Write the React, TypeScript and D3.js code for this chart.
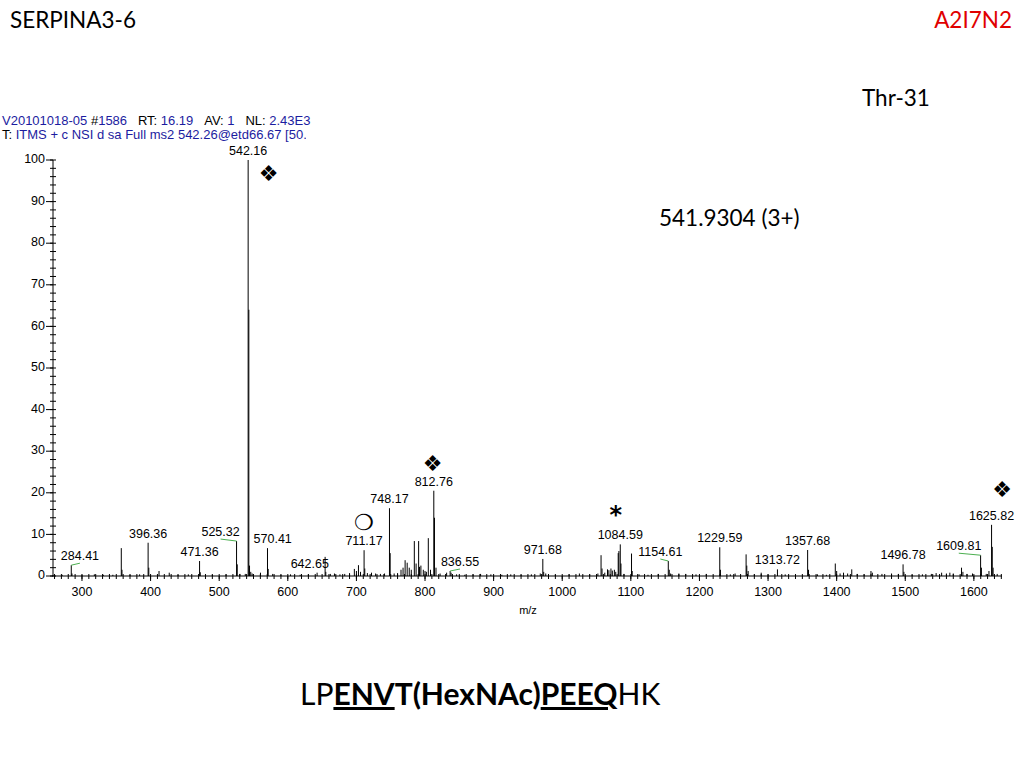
import * as d3 from 'd3';

// spectrum: [m/z, relative intensity]
const peaks: [number, number][] = [
  [271, 0.3], [284.4, 2.6], [285.4, 0.6], [300, 0.3], [318, 0.4], [331, 0.3], [345, 0.3],
  [357.3, 6.7], [358.3, 1.5], [370, 0.3], [384, 0.4], [396.4, 8.0], [397.4, 2.0],
  [412.3, 1.2], [427.2, 0.8], [440, 0.3], [455, 0.4], [471.4, 3.6], [472.4, 0.9],
  [490, 0.3], [510, 0.4], [525.3, 8.4], [526.3, 2.8], [530.2, 0.5], [538, 0.5],
  [542.2, 100], [543.2, 64], [544.2, 2.5], [546, 1.0], [548, 0.6], [560.2, 0.8],
  [570.4, 6.7], [571.4, 1.7], [578, 0.5], [590, 0.3], [604, 0.4], [618, 0.3],
  [630, 0.4], [642.7, 0.8], [654.4, 4.6], [655.4, 1.0], [662, 0.5], [668, 0.6],
  [676, 0.4], [683, 0.5], [690, 0.7], [697, 1.7], [700, 1.2], [703, 2.6], [706, 1.0],
  [711.2, 6.2], [712.2, 1.8], [716, 0.7], [722, 0.8], [728, 0.6], [735, 0.5],
  [741, 0.6], [748.2, 16.3], [749.2, 5.5], [755, 0.6], [760, 0.7], [765, 1.5],
  [768, 2.0], [771, 3.8], [774, 3.2], [777, 2.0], [780, 1.5], [784.4, 8.4], [787, 3.0],
  [790.7, 8.4], [792, 2.2], [794, 2.5], [797.5, 1.5], [800, 1.2], [802, 1.0],
  [804.8, 9.1], [808, 1.5], [812.8, 20.5], [813.8, 14.0], [816, 2.0], [822, 0.6],
  [831.5, 0.8], [836.6, 1.2], [838, 0.8], [846, 0.4], [858, 0.3], [870, 0.4],
  [881, 0.5], [896, 0.4], [912, 0.3], [925, 0.4], [940, 0.3], [955, 0.4], [968, 0.6],
  [971.7, 4.1], [973, 1.0], [976, 0.6], [990, 0.3], [1010, 0.4], [1025, 0.6],
  [1040, 0.4], [1052, 0.6], [1056.6, 5.0], [1058, 1.8], [1062, 0.8], [1066, 1.6],
  [1068, 1.4], [1071, 1.8], [1073, 1.3], [1076, 1.5], [1078, 1.0], [1081.6, 5.5],
  [1082.6, 6.0], [1084.6, 7.6], [1085.6, 3.0], [1090, 0.5], [1101, 5.4], [1102, 1.2],
  [1112, 0.4], [1125, 0.3], [1140, 0.5], [1154.6, 3.6], [1156, 1.5], [1158, 0.6],
  [1170, 0.6], [1180, 0.5], [1195, 0.4], [1210, 0.5], [1229.6, 6.9], [1230.6, 1.5],
  [1245, 0.4], [1252, 0.6], [1268, 5.2], [1269, 2.5], [1271, 1.2], [1280, 0.4],
  [1290, 0.8], [1300, 0.4], [1313.7, 1.6], [1325, 0.4], [1340, 0.3], [1357.7, 6.25],
  [1359, 1.5], [1372, 0.4], [1385, 0.3], [1398, 3.0], [1400, 1.2], [1405, 0.6],
  [1410, 0.8], [1416, 0.6], [1422, 1.6], [1430, 0.5], [1440, 0.4], [1450, 1.2],
  [1452, 0.8], [1466, 0.5], [1480, 0.6], [1490, 0.5], [1496.8, 2.8], [1498, 1.0],
  [1510, 0.3], [1525, 0.4], [1538, 0.5], [1545, 0.7], [1553, 0.8], [1560, 0.6],
  [1565, 0.8], [1570, 0.6], [1582, 2.0], [1584, 1.0], [1590, 0.5], [1598, 0.6],
  [1609.8, 5.0], [1611, 2.0], [1618, 0.5], [1622, 1.2], [1625.8, 12.3], [1626.8, 7.0],
  [1628, 2.0], [1634, 0.5],
];

// labelled peaks: [m/z, intensity, label, label anchor m/z]
const labelled: [number, number, string, number][] = [
  [284.4, 2.6, '284.41', 297],
  [396.4, 8.0, '396.36', 396.4],
  [471.4, 3.6, '471.36', 471.4],
  [525.3, 8.4, '525.32', 502],
  [542.2, 100, '542.16', 542.2],
  [570.4, 6.7, '570.41', 578],
  [642.7, 0.8, '642.65', 632],
  [711.2, 6.2, '711.17', 711.2],
  [748.2, 16.3, '748.17', 748.2],
  [812.8, 20.5, '812.76', 812.8],
  [836.6, 1.2, '836.55', 851],
  [971.7, 4.1, '971.68', 971.7],
  [1084.6, 7.6, '1084.59', 1084.6],
  [1154.6, 3.6, '1154.61', 1143],
  [1229.6, 6.9, '1229.59', 1229.6],
  [1313.7, 1.6, '1313.72', 1313.7],
  [1357.7, 6.25, '1357.68', 1357.7],
  [1496.8, 2.8, '1496.78', 1496.8],
  [1609.8, 5.0, '1609.81', 1578],
  [1625.8, 12.3, '1625.82', 1625.8],
];

// fragment symbols: [m/z, intensity, glyph]
const symbols: [number, number, string][] = [
  [572, 96.5, '\u2756'],
  [811, 26.6, '\u2756'],
  [1641, 20.4, '\u2756'],
  [711, 12.6, '\u274D'],
  [1078, 14.4, '*'],
];

const xTickValues = d3.range(300, 1601, 100);
const yTickValues = d3.range(0, 101, 10);

const sp = (n: number) => '\u00a0'.repeat(n);

export default function App() {
  const x = d3.scaleLinear().domain([256.3, 1641]).range([52, 1002]);
  const y = d3.scaleLinear().domain([0, 100]).range([576, 160]);
  const minorX = d3.range(260, 1641, 10);
  const minorY = d3.range(0, 101, 2);
  const blue = '#1c1ca0';
  const sans = 'Liberation Sans, Arial, sans-serif';
  const cal = 'Lato, Carlito, sans-serif';

  return (
    <svg width={1024} height={768} viewBox="0 0 1024 768"
      style={{ position: 'fixed', left: 0, top: 0, background: '#fff' }}>
      <rect width={1024} height={768} fill="#fff" />
      <text x={10} y={28} fontFamily={cal} fontSize={22.5}>SERPINA3-6</text>
      <text x={1012} y={28} fontFamily={cal} fontSize={22.5} fill="#e00000" textAnchor="end">A2I7N2</text>
      <text x={862} y={106} fontFamily={cal} fontSize={22.5}>Thr-31</text>
      <text x={659} y={226} fontFamily={cal} fontSize={22.5}>541.9304 (3+)</text>

      <defs>
        <clipPath id="hdr"><rect x={0} y={128} width={306} height={20} /></clipPath>
      </defs>
      <g fontFamily={sans} fontSize={13}>
        <text x={2} y={125}>
          <tspan fill={blue}>{'V20101018-05' + sp(1)}</tspan><tspan>#</tspan><tspan fill={blue}>1586</tspan>
          <tspan>{sp(3) + 'RT:' + sp(1)}</tspan><tspan fill={blue}>16.19</tspan>
          <tspan>{sp(3) + 'AV:' + sp(1)}</tspan><tspan fill={blue}>1</tspan>
          <tspan>{sp(3) + 'NL:' + sp(1)}</tspan><tspan fill={blue}>2.43E3</tspan>
        </text>
        <text x={2} y={139} clipPath="url(#hdr)">
          <tspan>{'T:' + sp(1)}</tspan><tspan fill={blue}>ITMS + c NSI d sa Full ms2 542.26@etd66.67 [50.00-2000.00]</tspan>
        </text>
      </g>

      {/* spectrum */}
      <g stroke="#000" strokeWidth={1}>
        {peaks.map(([mz, v], i) => (
          <line key={i} x1={x(mz)} x2={x(mz)} y1={y(0)} y2={y(v)} />
        ))}
      </g>

      {/* leader lines */}
      <g stroke="#4caf50" strokeWidth={1} fill="none">
        {labelled.filter(d => Math.abs(d[3] - d[0]) > 11).map(([mz, v, , a], i) => (
          <line key={i} x1={x(a)} y1={y(v) - 2} x2={x(mz)} y2={y(v)} />
        ))}
      </g>

      <g fontFamily={sans} fontSize={12.5} textAnchor="middle">
        {labelled.map(([mz, v, t, a]) => (
          <text key={t} x={x(a)} y={y(v) - 5}>{t}</text>
        ))}
      </g>

      <g fontFamily="DejaVu Sans, sans-serif" textAnchor="middle">
        {symbols.map(([mz, v, s], i) => (
          <text key={i} x={x(mz)} y={y(v)} fontSize={s === '*' ? 24 : 22}
            fontWeight={s === '*' ? 'bold' : 'normal'} dominantBaseline="middle">{s}</text>
        ))}
      </g>

      {/* axes */}
      <g stroke="#000" strokeWidth={1}>
        <line x1={53} x2={53} y1={y(100)} y2={y(0)} />
        {minorY.map(v => (
          <line key={v} x1={50} x2={56} y1={y(v)} y2={y(v)} />
        ))}
        {yTickValues.map(v => (
          <line key={v} x1={46} x2={53} y1={y(v)} y2={y(v)} />
        ))}
        <line x1={52} x2={1002} y1={y(0)} y2={y(0)} />
        {minorX.map(v => (
          <line key={v} x1={x(v)} x2={x(v)} y1={y(0) - 2} y2={y(0) + 3} />
        ))}
        {xTickValues.map(v => (
          <line key={v} x1={x(v)} x2={x(v)} y1={y(0)} y2={y(0) + 5} />
        ))}
      </g>
      <g fontFamily={sans} fontSize={12.5}>
        {yTickValues.map(v => (
          <text key={v} x={45} y={y(v)} textAnchor="end" dominantBaseline="middle">{v}</text>
        ))}
        {xTickValues.map(v => (
          <text key={v} x={x(v)} y={596} textAnchor="middle">{v}</text>
        ))}
        <text x={528} y={614} textAnchor="middle" fontSize={11}>m/z</text>
      </g>

      <text x={300} y={705} fontFamily={cal} fontSize={30}>
        <tspan>LP</tspan>
        <tspan fontWeight="bold" textDecoration="underline">ENV</tspan>
        <tspan fontWeight="bold">T(HexNAc)</tspan>
        <tspan fontWeight="bold" textDecoration="underline">PEEQ</tspan>
        <tspan>HK</tspan>
      </text>
    </svg>
  );
}
